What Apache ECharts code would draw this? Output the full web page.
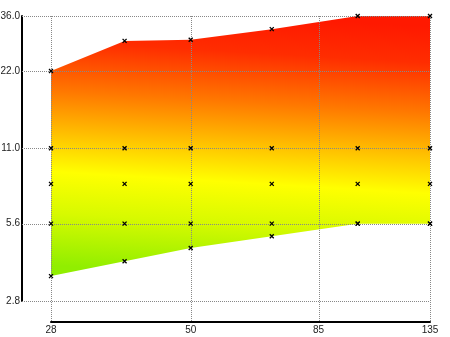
<!DOCTYPE html>
<html><head><meta charset="utf-8">
<script src="https://cdn.jsdelivr.net/npm/echarts@6/dist/echarts.min.js"></script>
<style>html,body{margin:0;padding:0;background:#fff}#c{width:450px;height:337px}</style>
</head><body><div id="c"></div>
<script>
const xValues = [28, 38, 50, 70, 100, 135];
const upperValues = [22, 28.8, 29.1, 32, 36, 36];
const lowerValues = [3.5, 4.0, 4.5, 5.0, 5.6, 5.6];
const row11 = [11, 11, 11, 11, 11, 11];
const row8 = [8, 8, 8, 8, 8, 8];
const row56 = [5.6, 5.6, 5.6, 5.6, 5.6, 5.6];
const xTicks = [28, 50, 85, 135];
const yTicks = [2.8, 5.6, 11, 22, 36];

const chart = echarts.init(document.getElementById('c'), null, {renderer: 'canvas'});
const xMin = xTicks[0], xMax = xTicks[xTicks.length - 1];
const yMin = yTicks[0], yMax = yTicks[yTicks.length - 1];
const Y_OFF = 29, X_OFF = 21;

const gradStops = [
  {offset: 0, color: 'rgb(255,25,0)'},
  {offset: 0.14, color: 'rgb(255,45,0)'},
  {offset: 0.33, color: 'rgb(255,120,0)'},
  {offset: 0.5, color: 'rgb(255,195,0)'},
  {offset: 0.64, color: 'rgb(255,255,0)'},
  {offset: 0.8, color: 'rgb(215,250,0)'},
  {offset: 1, color: 'rgb(145,238,0)'}
];

const crossSymbol = 'path://M0 0L10 10M10 0L0 10';
function markerSeries(ys) {
  return {
    type: 'scatter', data: xValues.map((x, i) => [x, ys[i]]),
    symbol: crossSymbol, symbolSize: 4, z: 10, silent: true,
    itemStyle: {color: 'none', borderColor: '#000', borderWidth: 1.3, opacity: 1}
  };
}

const axisLabelStyle = {color: '#222', fontSize: 10, fontFamily: 'Liberation Sans, Arial, sans-serif'};

chart.setOption({
  animation: false,
  grid: {left: 51, right: 20, top: 16, bottom: 36, containLabel: false, outerBoundsMode: 'none'},
  xAxis: {
    type: 'log', logBase: 10, min: xMin, max: xMax, offset: X_OFF,
    axisLine: {show: true, lineStyle: {color: '#000', width: 2}},
    axisTick: {show: false}, splitLine: {show: false}, minorTick: {show: false},
    axisLabel: Object.assign({customValues: xTicks, margin: 3, formatter: v => String(v)}, axisLabelStyle)
  },
  yAxis: {
    type: 'log', logBase: 10, min: yMin, max: yMax, offset: Y_OFF,
    axisLine: {show: true, lineStyle: {color: '#000', width: 2}},
    axisTick: {show: false}, splitLine: {show: false},
    axisLabel: Object.assign({customValues: yTicks, margin: 2, formatter: v => Number(v).toFixed(1)}, axisLabelStyle)
  },
  series: [
    {
      type: 'custom', z: 1, silent: true,
      data: [[xValues[0], upperValues[0]]],
      encode: {x: 0, y: 1},
      renderItem: function (params, api) {
        const pts = [];
        for (let i = 0; i < xValues.length; i++) pts.push(api.coord([xValues[i], upperValues[i]]));
        for (let i = xValues.length - 1; i >= 0; i--) pts.push(api.coord([xValues[i], lowerValues[i]]));
        return {
          type: 'polygon', shape: {points: pts},
          style: {fill: new echarts.graphic.LinearGradient(0.52, 0, 0.48, 1, gradStops), stroke: 'none'}
        };
      }
    },
    {
      type: 'custom', z: 5, silent: true, clip: false,
      data: yTicks.map(v => [xMin, v]),
      encode: {x: 0, y: 1},
      renderItem: function (params, api) {
        const v = api.value(1);
        const p = api.coord([xMin, v]), q = api.coord([xMax, v]);
        const y = Math.round(p[1]) + 0.5;
        return {type: 'line', shape: {x1: p[0] - Y_OFF, y1: y, x2: q[0], y2: y},
          style: {stroke: '#888', lineWidth: 1, lineDash: [1, 1]}};
      }
    },
    {
      type: 'custom', z: 5, silent: true, clip: false,
      data: xTicks.map(v => [v, yMin]),
      encode: {x: 0, y: 1},
      renderItem: function (params, api) {
        const v = api.value(0);
        const p = api.coord([v, yMax]), q = api.coord([v, yMin]);
        const x = Math.round(p[0]) + 0.5;
        return {type: 'line', shape: {x1: x, y1: p[1], x2: x, y2: q[1] + X_OFF},
          style: {stroke: '#888', lineWidth: 1, lineDash: [1, 1]}};
      }
    },
    markerSeries(upperValues),
    markerSeries(row11),
    markerSeries(row8),
    markerSeries(row56),
    markerSeries(lowerValues)
  ]
});
</script></body></html>
